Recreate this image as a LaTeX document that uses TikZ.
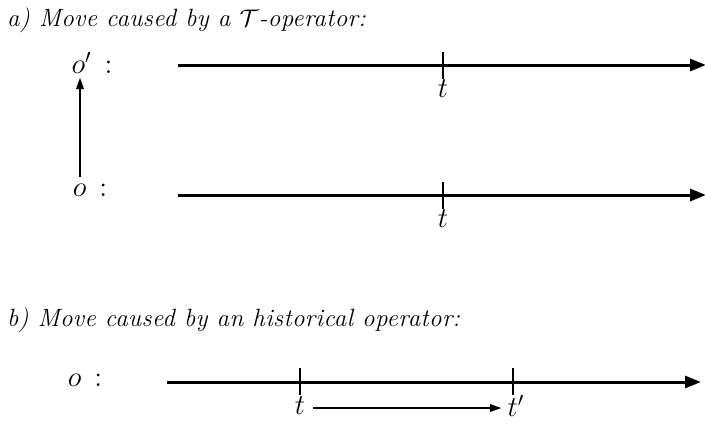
\documentclass[tikz,border=0pt]{standalone}
\usepackage{fontspec}
\newfontfamily\capfont{Latin Modern Roman}[LetterSpace=1.5]
\usetikzlibrary{arrows.meta}
\tikzset{
  axis/.style={line width=1.5pt,-{Triangle[length=8pt,width=6pt]}},
  move/.style={line width=1.4pt,-{Triangle[length=6pt,width=3.5pt]}},
  mark line/.style={line width=1.3pt},
  lbl/.style={font=\Large},
  caption/.style={anchor=base west,font=\fontsize{12.5}{15}\capfont\itshape}
}
\begin{document}
\begin{tikzpicture}[x=0.5pt,y=-0.5pt]
  \useasboundingbox (0,0) rectangle (705,425);
  % part a
  \node[caption] (ta) at (0,26) {a) Move caused by a $\mathcal{T}$-operator:};
  \node[lbl] (o1) at (92,63) {$o'\,:$};
  \node[lbl] (o0) at (90,190) {$o\,:$};
  \coordinate (s1) at (178,65);
  \coordinate (e1) at (706,65);
  \coordinate (s0) at (178,195);
  \coordinate (e0) at (706,195);
  \coordinate (up0) at (80,177);
  \coordinate (up1) at (80,77);
  \draw[axis] (s1) -- (e1);
  \draw[axis] (s0) -- (e0);
  \draw[move] (up0) -- (up1);
  \draw[mark line] (443,52) -- (443,79);
  \draw[mark line] (443,182) -- (443,209);
  \node[lbl] (t1) at (443,89) {$t$};
  \node[lbl] (t0) at (443,219) {$t$};
  % part b
  \node[caption] (tb) at (0,326) {b) Move caused by an historical operator:};
  \node[lbl] (o2) at (85,380) {$o\,:$};
  \coordinate (s2) at (167,382);
  \coordinate (e2) at (701,382);
  \draw[axis] (s2) -- (e2);
  \draw[mark line] (300,368) -- (300,395);
  \draw[mark line] (513,368) -- (513,395);
  \node[lbl] (t2) at (300,406) {$t$};
  \node[lbl] (t3) at (516,406) {$t'$};
  \coordinate (m0) at (313,408);
  \coordinate (m1) at (502,408);
  \draw[move] (m0) -- (m1);
\end{tikzpicture}
\end{document}
